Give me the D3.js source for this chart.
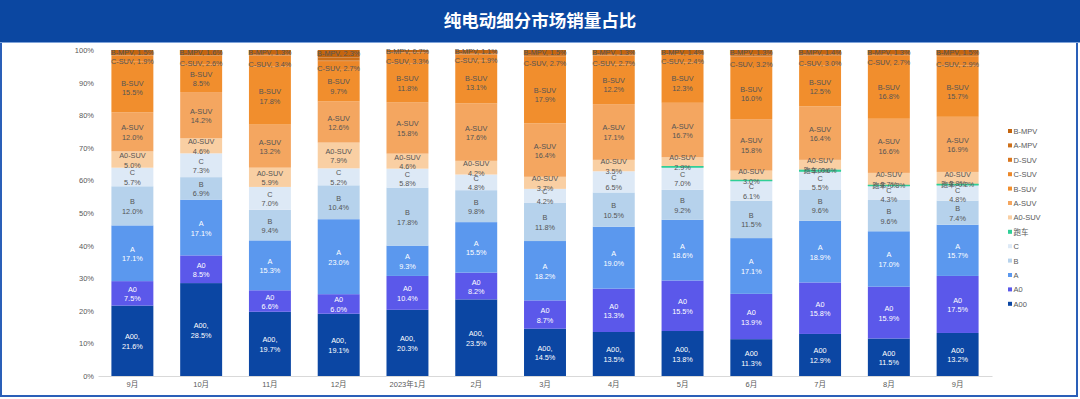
<!DOCTYPE html>
<html>
<head>
<meta charset="utf-8">
<script src="https://cdn.jsdelivr.net/npm/d3@7/dist/d3.min.js"></script>
<style>
  body { margin: 0; background: #fff; }
  svg text { font-family: "Liberation Sans", Arial, "Noto Sans CJK SC", sans-serif; }
</style>
</head>
<body>
<svg id="chart" width="1080" height="399"></svg>
<script>
// months along the x axis
var months = ["9月", "10月", "11月", "12月", "2023年1月", "2月", "3月", "4月", "5月", "6月", "7月", "8月", "9月"];

// series values (%), bottom to top of each bar
var A00 = [21.6, 28.5, 19.7, 19.1, 20.3, 23.5, 14.5, 13.5, 13.8, 11.3, 12.9, 11.5, 13.2];
var A0 = [7.5, 8.5, 6.6, 6.0, 10.4, 8.2, 8.7, 13.3, 15.5, 13.9, 15.8, 15.9, 17.5];
var A = [17.1, 17.1, 15.3, 23.0, 9.3, 15.5, 18.2, 19.0, 18.6, 17.1, 18.9, 17.0, 15.7];
var B = [12.0, 6.9, 9.4, 10.4, 17.8, 9.8, 11.8, 10.5, 9.2, 11.5, 9.6, 9.6, 7.4];
var C = [5.7, 7.3, 7.0, 5.2, 5.8, 4.8, 4.2, 6.5, 7.0, 6.1, 5.5, 4.3, 4.8];
var paoche = [0, 0, 0, 0, 0, 0, 0, 0, 0.1, 0.1, 0.6, 0.3, 0.2];
var A0SUV = [5.0, 4.6, 5.9, 7.9, 4.6, 4.2, 3.7, 3.5, 2.9, 3.0, 3.0, 3.7, 3.8];
var ASUV = [12.0, 14.2, 13.2, 12.6, 15.8, 17.6, 16.4, 17.1, 16.7, 15.8, 16.4, 16.6, 16.9];
var BSUV = [15.5, 8.5, 17.8, 9.7, 11.8, 13.1, 17.9, 12.2, 12.3, 16.0, 12.5, 16.8, 15.7];
var CSUV = [1.9, 2.6, 3.4, 2.7, 3.3, 1.9, 2.7, 2.7, 2.4, 3.2, 3.0, 2.7, 2.9];
var DSUV = [0.1, 0.1, 0.1, 0.2, 0.1, 0.1, 0.1, 0.1, 0.0, 0.2, 0.1, 0.1, 0.1];
var AMPV = [0.1, 0.1, 0.3, 0.9, 0.1, 0.2, 0.3, 0.3, 0.1, 0.5, 0.3, 0.2, 0.3];
var BMPV = [1.5, 1.6, 1.3, 2.3, 0.7, 1.1, 1.5, 1.3, 1.4, 1.3, 1.4, 1.3, 1.5];

// series names, colours and label styles (bottom to top)
var seriesNames = ["A00", "A0", "A", "B", "C", "跑车", "A0-SUV", "A-SUV", "B-SUV", "C-SUV", "D-SUV", "A-MPV", "B-MPV"];
var seriesValues = [A00, A0, A, B, C, paoche, A0SUV, ASUV, BSUV, CSUV, DSUV, AMPV, BMPV];
var seriesColors = ["#0b46a3", "#5b58ea", "#5b98ee", "#b6d2ec", "#dde9f6", "#2fcf97", "#f9cfa3", "#f4a660", "#f18e2d", "#ec8728", "#d9761f", "#cd6f19", "#c4650f"];
// "inline" = one line "name, x%"; "two" = two lines; "none" = no label
var labelMode = ["two", "two", "two", "two", "two", "inline", "two", "two", "two", "inline", "none", "none", "inline"];
var yTicks = [0, 10, 20, 30, 40, 50, 60, 70, 80, 90, 100];

var svg = d3.select("#chart");

// frame and title banner
svg.append("rect").attr("x", 1).attr("y", 1).attr("width", 1076).attr("height", 395)
  .attr("fill", "#fff").attr("stroke", "#2a5fb8").attr("stroke-width", 2);
svg.append("rect").attr("x", 0).attr("y", 0).attr("width", 1080).attr("height", 42).attr("fill", "#0b47a1");
svg.append("line").attr("x1", 0).attr("x2", 1080).attr("y1", 42.5).attr("y2", 42.5).attr("stroke", "#7fa3d9");
svg.append("text").attr("x", 540).attr("y", 27).attr("text-anchor", "middle")
  .attr("fill", "#fff").attr("font-size", 17.5).attr("font-weight", "bold")
  .style("font-family", "'Noto Sans CJK SC', sans-serif")
  .text("纯电动细分市场销量占比");

var rows = months.map(function (m, i) {
  var row = { month: i };
  seriesNames.forEach(function (name, s) {
    row[name] = seriesValues[s][i];
  });
  return row;
});

var xScale = d3.scaleBand().domain(d3.range(months.length)).range([98, 992])
  .paddingInner(0.39).paddingOuter(0.195);
var yScale = d3.scaleLinear().domain([0, 100]).range([376, 50]);

var stack = d3.stack().keys(seriesNames);
var layers = stack(rows);

// y axis labels
var yAxis = svg.append("g").attr("transform", "translate(96,0)")
  .call(d3.axisLeft(yScale).tickValues(yTicks).tickSize(0).tickPadding(2)
    .tickFormat(function (d) { return d + "%"; }));
yAxis.select(".domain").remove();
yAxis.selectAll("text").attr("fill", "#595959").attr("font-size", 7.5)
  .style("font-family", "'Liberation Sans', Arial, sans-serif");

// bars
var layerG = svg.selectAll("g.layer").data(layers).enter().append("g").attr("class", "layer")
  .attr("fill", function (d, s) { return seriesColors[s]; });

layerG.selectAll("rect").data(function (d) { return d; }).enter().append("rect")
  .attr("x", function (d, i) { return xScale(i); })
  .attr("width", xScale.bandwidth())
  .attr("y", function (d) { return yScale(d[1]); })
  .attr("height", function (d) {
    var h = yScale(d[0]) - yScale(d[1]);
    return h;
  });

// 跑车 segments drawn as a visible line
var pLayer = layers[5];
svg.selectAll("line.pao").data(pLayer.filter(function (d) { return d[1] - d[0] > 0; }))
  .enter().append("line")
  .attr("x1", function (d) { return xScale(d.data.month); })
  .attr("x2", function (d) { return xScale(d.data.month) + xScale.bandwidth(); })
  .attr("y1", function (d) { return (yScale(d[0]) + yScale(d[1])) / 2; })
  .attr("y2", function (d) { return (yScale(d[0]) + yScale(d[1])) / 2; })
  .attr("stroke", "#2fcf97").attr("stroke-width", 1.6);

// x axis
var xAxis = svg.append("g").attr("transform", "translate(0,376)")
  .call(d3.axisBottom(xScale).tickSize(0).tickPadding(6)
    .tickFormat(function (i) { return months[i]; }));
xAxis.select(".domain").attr("stroke", "#d9d9d9");
xAxis.selectAll("text").attr("fill", "#595959").attr("font-size", 7.5)
  .style("font-family", "'Liberation Sans', 'Noto Sans CJK SC', sans-serif");

// data labels
layers.forEach(function (layer, s) {
  var mode = labelMode[s];
  if (mode === "none") return;
  var white = s <= 2;
  layer.forEach(function (d, i) {
    var v = d[1] - d[0];
    if (v <= 0) return;
    if (s === 5 && v < 0.2) return;
    var cx = xScale(i) + xScale.bandwidth() / 2;
    var cy = (yScale(d[0]) + yScale(d[1])) / 2;
    if (s === 9) cy += 3;            // C-SUV sits a little lower
    if (s === 4 && paoche[i] >= 0.2) cy += 1.5;
    var t = svg.append("text").attr("text-anchor", "middle")
      .attr("fill", white ? "#ffffff" : "#555555").attr("font-size", s === 5 ? 6.8 : 7.3)
      .style("font-family", "'Liberation Sans', Arial, 'Noto Sans CJK SC', sans-serif");
    var name = seriesNames[s];
    if (mode === "inline") {
      t.attr("x", cx).attr("y", cy + 2.6).text(name + ", " + v.toFixed(1) + "%");
    } else {
      if (s === 0 && i < 9) name = "A00,";
      t.attr("x", cx).attr("y", cy - 1.5);
      t.append("tspan").attr("x", cx).text(name);
      t.append("tspan").attr("x", cx).attr("dy", 9.5).text(v.toFixed(1) + "%");
    }
  });
});

// legend (top entry B-MPV)
var legendNames = seriesNames.slice().reverse();
var legend = svg.selectAll("g.leg").data(legendNames).enter().append("g").attr("class", "leg")
  .attr("transform", function (d, k) { return "translate(1008," + (132 + k * 14.4) + ")"; });
legend.append("rect").attr("x", 0).attr("y", -3).attr("width", 4).attr("height", 4)
  .attr("fill", function (d) { return seriesColors[seriesNames.indexOf(d)]; });
legend.append("text").attr("x", 5.5).attr("y", 2).attr("font-size", 7.5).attr("fill", "#595959")
  .text(function (d) { return d; });
</script>
</body>
</html>
